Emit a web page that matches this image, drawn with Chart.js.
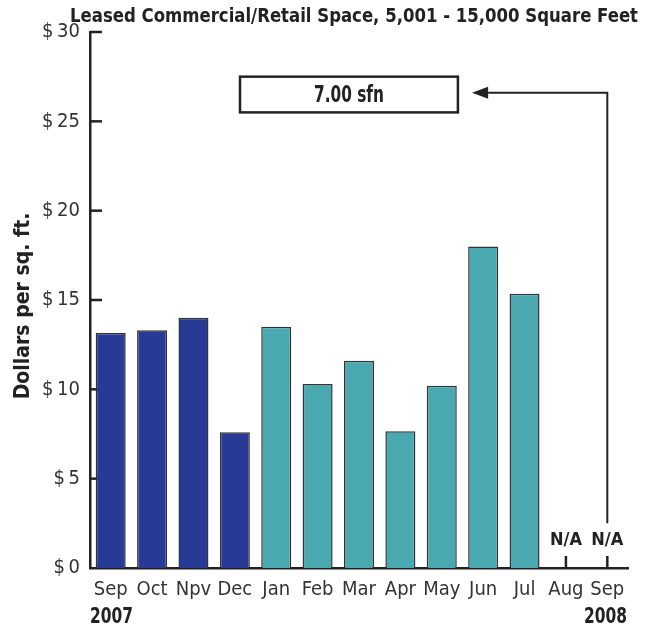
<!DOCTYPE html>
<html>
<head>
<meta charset="utf-8">
<script src="https://cdn.jsdelivr.net/npm/chart.js@4.4.1/dist/chart.umd.min.js"></script>
<style>
html,body{margin:0;padding:0;background:#fff;}
#wrap{width:651px;height:631px;}
</style>
</head>
<body>
<div id="wrap"><canvas id="c" width="651" height="631"></canvas></div>
<script>
const chartTitle = 'Leased Commercial/Retail Space, 5,001 - 15,000 Square Feet';
const yAxisTitle = 'Dollars per sq. ft.';
const categories = ['Sep','Oct','Npv','Dec','Jan','Feb','Mar','Apr','May','Jun','Jul','Aug','Sep'];
const years = ['2007','2007','2007','2007','2008','2008','2008','2008','2008','2008','2008','2008','2008'];
const values = [13.15, 13.3, 14.0, 7.6, 13.5, 10.3, 11.6, 7.65, 10.2, 18.0, 15.35, null, null];
const yTicks = [0, 5, 10, 15, 20, 25, 30];
const naLabel = 'N/A';
const startYear = '2007';
const endYear = '2008';
const noteValue = 7.00;
const noteUnit = 'sfn';

const yearColors = {'2007':'#263a96','2008':'#4aa8b0'};
const barColors = years.map(y => yearColors[y]);
const FONT = "'Liberation Sans Narrow','DejaVu Sans Condensed',sans-serif";
const INK = '#222';

const decor = {
  id: 'decor',
  beforeDatasetsDraw(chart) {
    const ctx = chart.ctx, xs = chart.scales.x, ys = chart.scales.y, a = chart.chartArea;
    ctx.save();
    ctx.strokeStyle = INK; ctx.lineWidth = 2.5;
    categories.forEach((c, i) => {
      const px = xs.getPixelForValue(i);
      ctx.beginPath(); ctx.moveTo(px, a.bottom); ctx.lineTo(px, a.bottom - 12); ctx.stroke();
    });
    yTicks.forEach(v => {
      if (v === 0) return;
      const py = ys.getPixelForValue(v);
      ctx.beginPath(); ctx.moveTo(a.left, py); ctx.lineTo(a.left + 12, py); ctx.stroke();
    });
    ctx.restore();
  },
  afterDraw(chart) {
    const ctx = chart.ctx, xs = chart.scales.x, ys = chart.scales.y, a = chart.chartArea;
    ctx.save();
    ctx.fillStyle = INK; ctx.strokeStyle = INK;
    // title
    ctx.font = "bold 20px " + FONT;
    ctx.textAlign = 'center'; ctx.textBaseline = 'alphabetic';
    ctx.fillText(chartTitle, 354, 22, 568);
    // y axis title
    ctx.save();
    ctx.translate(24, 306);
    ctx.rotate(-Math.PI / 2);
    ctx.font = "bold 21px " + FONT;
    ctx.textAlign = 'center'; ctx.textBaseline = 'middle';
    ctx.fillText(yAxisTitle, 0, 0, 188);
    ctx.restore();
    // N/A labels
    ctx.font = "bold 18px " + FONT;
    ctx.textAlign = 'center'; ctx.textBaseline = 'alphabetic';
    values.forEach((v, i) => {
      if (v === null) ctx.fillText(naLabel, xs.getPixelForValue(i), a.bottom - 23, 33);
    });
    // years
    ctx.font = "bold 21px " + FONT;
    ctx.textAlign = 'left'; ctx.fillText(startYear, a.left, 623, 43);
    ctx.textAlign = 'right'; ctx.fillText(endYear, a.right - 1, 623, 43);
    // annotation box
    const bx0 = xs.getPixelForValue(3.125), bx1 = xs.getPixelForValue(8.39);
    const by0 = ys.getPixelForValue(27.5), by1 = ys.getPixelForValue(25.5);
    ctx.lineWidth = 2.5;
    ctx.strokeRect(bx0, by0, bx1 - bx0, by1 - by0);
    ctx.font = "bold 23px " + FONT;
    ctx.textAlign = 'center'; ctx.textBaseline = 'middle';
    ctx.fillText(noteValue.toFixed(2) + ' ' + noteUnit, (bx0 + bx1) / 2, (by0 + by1) / 2 + 1, 70);
    // arrow
    const ax = xs.getPixelForValue(12);
    const ay0 = ys.getPixelForValue(2.5), ay1 = ys.getPixelForValue(26.6);
    const tip = xs.getPixelForValue(8.73), base = xs.getPixelForValue(9.12);
    ctx.lineWidth = 2;
    ctx.beginPath(); ctx.moveTo(ax, ay0); ctx.lineTo(ax, ay1); ctx.lineTo(base, ay1); ctx.stroke();
    ctx.beginPath(); ctx.moveTo(tip, ay1); ctx.lineTo(base, ay1 - 6); ctx.lineTo(base, ay1 + 6); ctx.closePath(); ctx.fill();
    ctx.restore();
  }
};

new Chart(document.getElementById('c'), {
  type: 'bar',
  data: {
    labels: categories,
    datasets: [{
      data: values,
      backgroundColor: barColors,
      borderColor: '#333',
      borderWidth: 1.5,
      borderSkipped: 'bottom',
      barPercentage: 0.725,
      categoryPercentage: 1.0
    }]
  },
  options: {
    responsive: false,
    animation: false,
    devicePixelRatio: 1,
    layout: { padding: { top: 32, right: 23, left: 0, bottom: 0 } },
    plugins: { legend: { display: false }, tooltip: { enabled: false }, title: { display: false } },
    scales: {
      x: {
        grid: { display: false, drawTicks: false },
        border: { display: true, color: INK, width: 2.5 },
        ticks: { color: '#333', font: { family: FONT, size: 20 }, padding: 10, maxRotation: 0, autoSkip: false },
        afterFit(s) { s.height = 63; }
      },
      y: {
        min: 0, max: 30,
        afterBuildTicks(s) { s.ticks = yTicks.map(v => ({ value: v })); },
        grid: { display: false, drawTicks: false },
        border: { display: true, color: INK, width: 2.5 },
        ticks: { color: '#333', font: { family: FONT, size: 20 }, padding: 10, callback: v => '$\u2009' + v },
        afterFit(s) { s.width = 90; }
      }
    }
  },
  plugins: [decor]
});
</script>
</body>
</html>
